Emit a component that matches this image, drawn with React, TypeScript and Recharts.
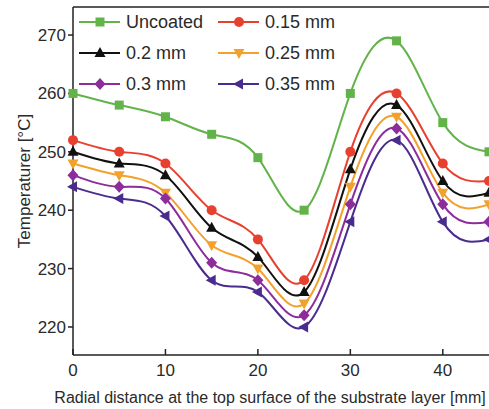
import React from "react";
import { LineChart, Line, XAxis, YAxis, Legend, Label, ReferenceLine } from "recharts";

const distances = [0, 5, 10, 15, 20, 25, 30, 35, 40, 45];
const uncoated = [260, 258, 256, 253, 249, 240, 260, 269, 255, 250];
const mm015 = [252, 250, 248, 240, 235, 228, 250, 260, 248, 245];
const mm020 = [250, 248, 246, 237, 232, 226, 247, 258, 245, 243];
const mm025 = [248, 246, 243, 234, 230, 224, 244, 256, 243, 241];
const mm030 = [246, 244, 242, 231, 228, 222, 241, 254, 241, 238];
const mm035 = [244, 242, 239, 228, 226, 220, 238, 252, 238, 235];

const xTicks = [0, 10, 20, 30, 40];
const yTicks = [220, 230, 240, 250, 260, 270];

const series = [
  { key: "uncoated", name: "Uncoated", values: uncoated, color: "#62b34a", shape: "square" },
  { key: "mm015", name: "0.15 mm", values: mm015, color: "#e8402f", shape: "circle" },
  { key: "mm020", name: "0.2 mm", values: mm020, color: "#111111", shape: "up" },
  { key: "mm025", name: "0.25 mm", values: mm025, color: "#f3a12c", shape: "down" },
  { key: "mm030", name: "0.3 mm", values: mm030, color: "#8c2d9b", shape: "diamond" },
  { key: "mm035", name: "0.35 mm", values: mm035, color: "#4a2c8e", shape: "left" },
];

const data = distances.map((d, i) => {
  const row: Record<string, number> = { x: d };
  series.forEach((s) => {
    row[s.key] = s.values[i];
  });
  return row;
});

const FONT = "Arial, 'Liberation Sans', sans-serif";
const TEXT = "#2a2a2a";

function Marker({ shape, cx, cy, color }: { shape: string; cx: number; cy: number; color: string }) {
  const r = 5;
  switch (shape) {
    case "square":
      return <rect x={cx - 4.5} y={cy - 4.5} width={9} height={9} fill={color} />;
    case "circle":
      return <circle cx={cx} cy={cy} r={r} fill={color} />;
    case "up":
      return <polygon points={`${cx},${cy - 6} ${cx - 5.5},${cy + 4} ${cx + 5.5},${cy + 4}`} fill={color} />;
    case "down":
      return <polygon points={`${cx},${cy + 6} ${cx - 5.5},${cy - 4} ${cx + 5.5},${cy - 4}`} fill={color} />;
    case "diamond":
      return <polygon points={`${cx},${cy - 6} ${cx + 5.5},${cy} ${cx},${cy + 6} ${cx - 5.5},${cy}`} fill={color} />;
    default:
      return <polygon points={`${cx - 6},${cy} ${cx + 4},${cy - 5.5} ${cx + 4},${cy + 5.5}`} fill={color} />;
  }
}

function LegendBox() {
  return (
    <div
      style={{
        display: "grid",
        gridTemplateColumns: "139px 139px",
        rowGap: 9,
        fontFamily: FONT,
        fontSize: 18,
        color: TEXT,
      }}
    >
      {series.map((s) => (
        <div key={s.key} style={{ display: "flex", alignItems: "center", height: 22 }}>
          <svg width={48} height={22}>
            <line x1={1} x2={42} y1={11} y2={11} stroke={s.color} strokeWidth={2} />
            <Marker shape={s.shape} cx={22} cy={11} color={s.color} />
          </svg>
          <span>{s.name}</span>
        </div>
      ))}
    </div>
  );
}

function XTick({ x, y, payload }: any) {
  return (
    <g>
      <line x1={x} x2={x} y1={y} y2={y - 6} stroke="#222" strokeWidth={1.5} />
      <text x={x} y={y + 21} textAnchor="middle" fontSize={17} fontFamily={FONT} fill={TEXT}>
        {payload.value}
      </text>
    </g>
  );
}

export default function App() {
  return (
    <div style={{ position: "absolute", left: 0, top: 0, width: 489, height: 409, background: "#fff" }}>
      <LineChart width={489} height={409} data={data} margin={{ top: 7, right: 0, left: 0, bottom: 0 }}>
        <XAxis
          dataKey="x"
          type="number"
          domain={[0, 45]}
          ticks={xTicks}
          height={54}
          tickSize={0}
          tickMargin={0}
          tickLine={false}
          tick={<XTick />}
          axisLine={{ stroke: "#222", strokeWidth: 1.5 }}
        >
          <Label
            content={() => (
              <text x={270} y={403} textAnchor="middle" fontSize={16} fontFamily={FONT} fill={TEXT}>
                Radial distance at the top surface of the substrate layer [mm]
              </text>
            )}
          />
        </XAxis>
        <YAxis
          type="number"
          domain={[215.2, 274.8]}
          ticks={yTicks}
          width={73}
          tickSize={5}
          tickMargin={2}
          tick={{ fontSize: 17, fontFamily: FONT, fill: TEXT }}
          tickLine={{ stroke: "#222", strokeWidth: 1.5 }}
          axisLine={{ stroke: "#222", strokeWidth: 1.5 }}
          allowDataOverflow
        >
          <Label
            content={() => (
              <text
                transform="translate(30,181) rotate(-90)"
                textAnchor="middle"
                fontSize={17}
                fontFamily={FONT}
                fill={TEXT}
              >
                Temperaturer [°C]
              </text>
            )}
          />
        </YAxis>
        <ReferenceLine y={274.8} stroke="#222" strokeWidth={1.5} ifOverflow="visible" />
        {series.map((s) => (
          <Line
            key={s.key}
            type="natural"
            dataKey={s.key}
            name={s.name}
            stroke={s.color}
            strokeWidth={2}
            isAnimationActive={false}
            activeDot={false}
            dot={(p: any) => <Marker key={`${s.key}-${p.index}`} shape={s.shape} cx={p.cx} cy={p.cy} color={s.color} />}
          />
        ))}
        <Legend
          layout="horizontal"
          verticalAlign="middle"
          align="center"
          wrapperStyle={{ top: 11, left: 78, width: 290 }}
          content={() => (
            <div style={{ marginTop: 0 }}>
              <LegendBox />
            </div>
          )}
        />
      </LineChart>
    </div>
  );
}
